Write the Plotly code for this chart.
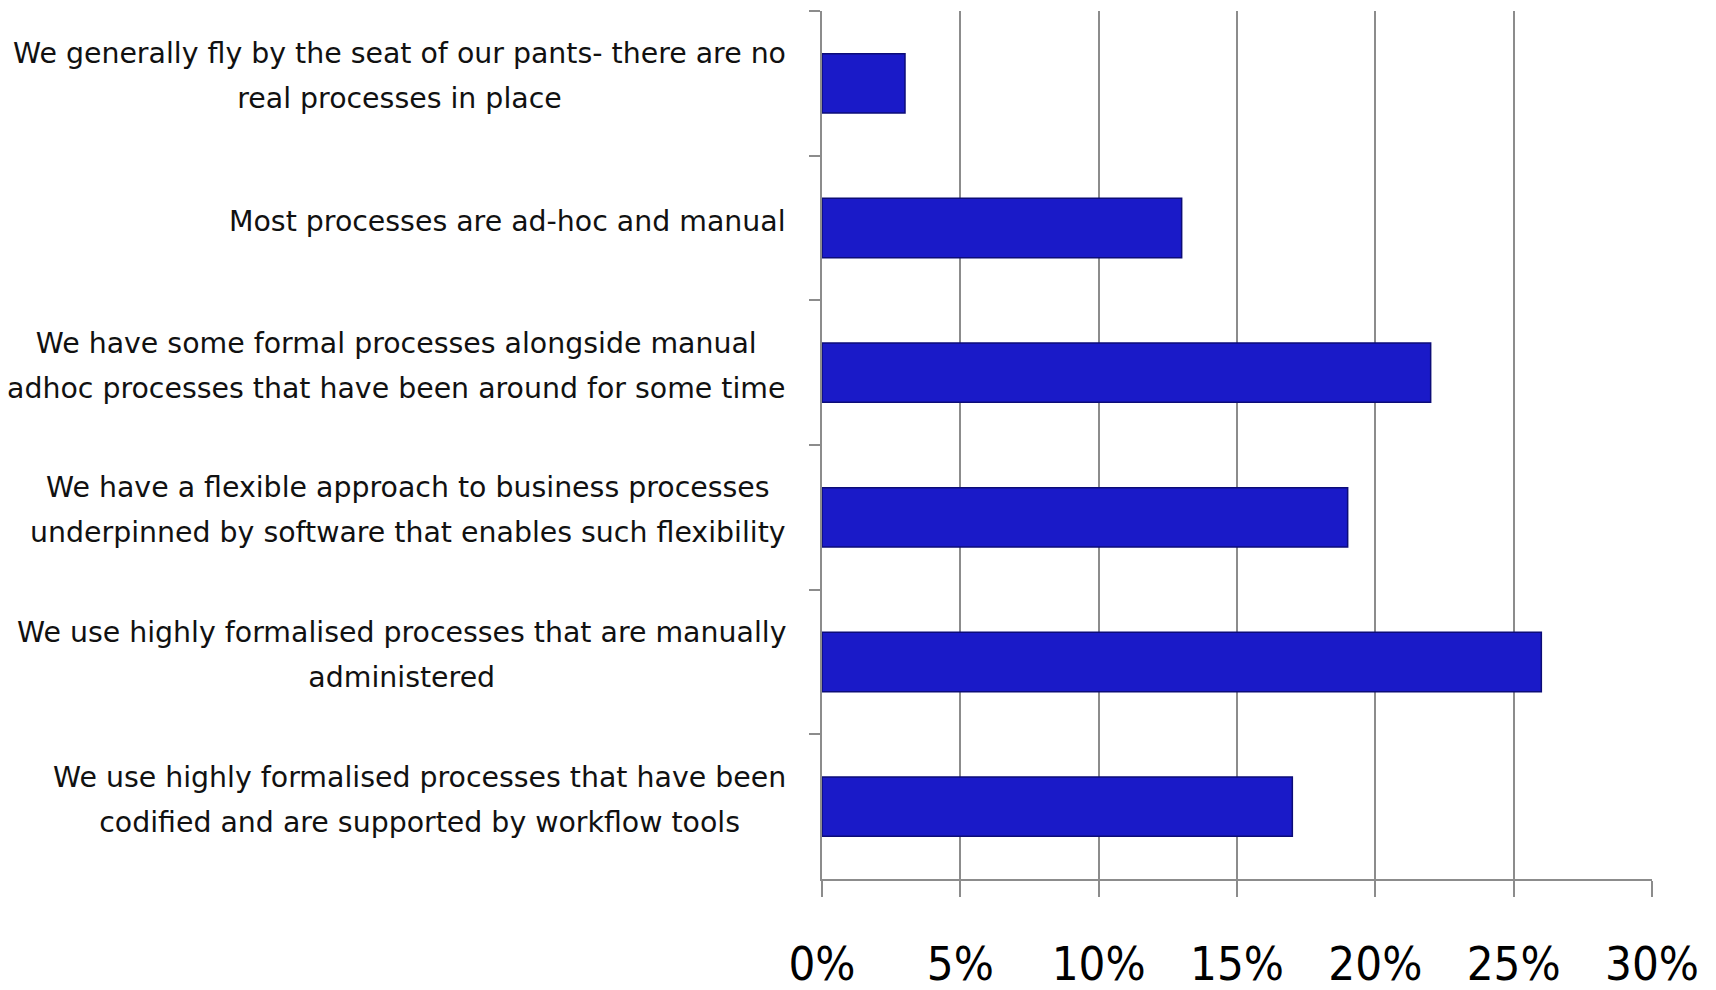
import plotly.graph_objects as go

categories = [
    "We generally fly by the seat of our pants- there are no<br>real processes in place",
    "Most processes are ad-hoc and manual",
    "We have some formal processes alongside manual<br>adhoc processes that have been around for some time",
    "We have a flexible approach to business processes<br>underpinned by software that enables such flexibility",
    "We use highly formalised processes that are manually<br>administered",
    "We use highly formalised processes that have been<br>codified and are supported by workflow tools",
]
values = [3, 13, 22, 19, 26, 17]
tick_vals = [0, 5, 10, 15, 20, 25, 30]
tick_text = ["0%", "5%", "10%", "15%", "20%", "25%", "30%"]

fig = go.Figure()
fig.add_trace(go.Bar(
    x=values, y=categories, orientation="h",
    marker=dict(color="#1a1ac8", line=dict(color="#0c0c78", width=1.5)),
    width=0.41,
    hoverinfo="x+y",
))

for c in categories:
    lines = c.split("<br>")
    txt = "<br>".join('<span style="font-size:28.4px">%s</span>' % ln for ln in lines)
    fig.add_annotation(
        x=0, xref="paper", y=c, yref="y", xanchor="right", yanchor="middle",
        xshift=-34, yshift=7, text=txt, showarrow=False, align="center",
        font=dict(family="DejaVu Sans", size=34.6, color="#111"),
    )

fig.update_layout(
    width=1716, height=990,
    margin=dict(l=814, r=72, t=3, b=119),
    paper_bgcolor="white", plot_bgcolor="white",
    showlegend=False,
    xaxis=dict(
        range=[0, 30], tickvals=tick_vals, ticktext=tick_text,
        showgrid=True, gridcolor="#8c8c8c", gridwidth=1.5,
        showline=True, linecolor="#8c8c8c", linewidth=1.5,
        ticks="outside", ticklen=16, tickcolor="#8c8c8c", tickwidth=1.5,
        tickfont=dict(family="Liberation Sans Narrow, DejaVu Sans Condensed", size=47, color="#000"),
        ticklabelstandoff=27, zeroline=False, automargin=False,
    ),
    yaxis=dict(
        autorange="reversed", categoryorder="array", categoryarray=categories,
        showticklabels=False, showgrid=False, automargin=False,
        showline=True, linecolor="#8c8c8c", linewidth=1.5,
        ticks="outside", tickson="boundaries", ticklen=11, tickcolor="#8c8c8c", tickwidth=1.5,
    ),
)

fig.write_html("out.html")
